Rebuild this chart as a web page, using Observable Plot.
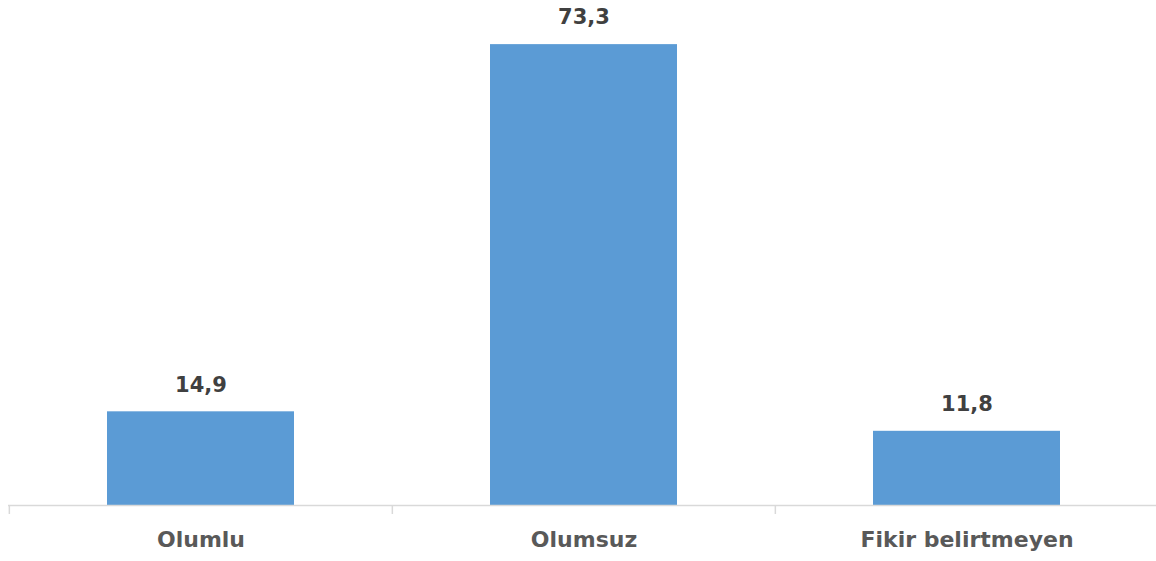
<!DOCTYPE html>
<html>
<head>
<meta charset="utf-8">
<script src="https://cdn.jsdelivr.net/npm/d3@7"></script>
<script src="https://cdn.jsdelivr.net/npm/@observablehq/plot@0.6"></script>
<style>
  html, body { margin: 0; padding: 0; background: #fff; }
  #chart svg { display: block; }
</style>
</head>
<body>
<div id="chart"></div>
<script>
const categories = ["Olumlu", "Olumsuz", "Fikir belirtmeyen"];
const values = [14.9, 73.3, 11.8];
const valueLabels = ["14,9", "73,3", "11,8"];

const data = categories.map((c, i) => ({category: c, value: values[i], label: valueLabels[i]}));

const width = 1156, height = 561;
const marginLeft = 8, marginRight = 0, marginTop = 2, marginBottom = 56;
const xRange = [8.5, 1158.4];
const step = (xRange[1] - xRange[0]) / categories.length;

const plot = Plot.plot({
  width, height, marginLeft, marginRight, marginTop, marginBottom,
  style: {fontFamily: "'DejaVu Sans', sans-serif", background: "#fff"},
  x: {domain: categories, range: xRange, paddingInner: 0.513, paddingOuter: 0.2565, label: null},
  y: {domain: [0, 80], axis: null},
  marks: [
    Plot.barY(data, {x: "category", y: "value", fill: "#5b9bd5"}),
    Plot.ruleY([0], {stroke: "#d9d9d9", strokeWidth: 1.5}),
    Plot.ruleX(data, {x: "category", y1: 0, y2: 0, insetBottom: -9, dx: -step / 2, stroke: "#d9d9d9", strokeWidth: 1.5}),
    Plot.text(data, {x: "category", y: "value", text: "label", dy: -27, fontSize: 21, fontWeight: "bold", fill: "#404040"}),
    Plot.axisX({tickSize: 0, tickPadding: 26, fontSize: 22, fontWeight: "bold", color: "#595959", label: null})
  ]
});
document.getElementById("chart").append(plot);
</script>
</body>
</html>
